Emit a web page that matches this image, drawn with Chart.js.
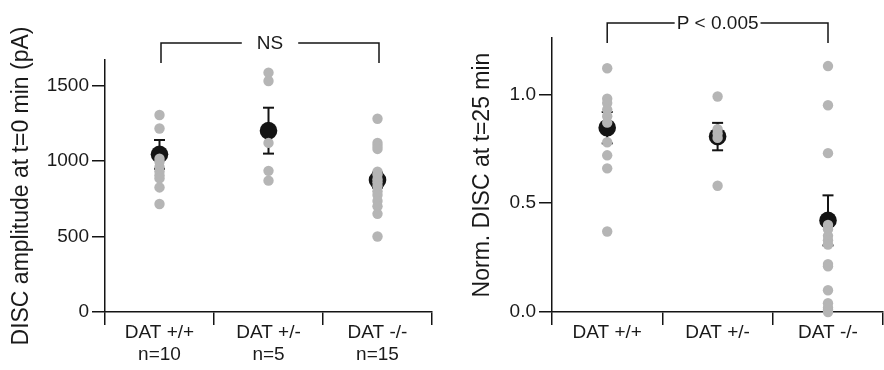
<!DOCTYPE html>
<html>
<head>
<meta charset="utf-8">
<script src="https://cdn.jsdelivr.net/npm/chart.js@4.4.1/dist/chart.umd.min.js"></script>
<style>
  html, body { margin: 0; padding: 0; background: #fff; overflow: hidden; }
  #wrap { position: relative; width: 884px; height: 370px; overflow: hidden; }
  #leftBox { position: absolute; left: 0; top: 0; }
  #rightBox { position: absolute; left: 442px; top: 0; }
</style>
</head>
<body>
<div id="wrap">
  <div id="leftBox"><canvas id="ampChart" width="442" height="370"></canvas></div>
  <div id="rightBox"><canvas id="normChart" width="450" height="370"></canvas></div>
</div>
<script>
const genotypes = ['DAT +/+', 'DAT +/-', 'DAT -/-'];
const groupSizes = ['n=10', 'n=5', 'n=15'];

// DISC amplitude at t=0 min (pA), one value per cell
const ampWT = [1305, 1215, 1015, 995, 960, 930, 905, 885, 825, 715];
const ampHet = [1585, 1530, 1120, 935, 870];
const ampKO = [1280, 1120, 1100, 1080, 930, 910, 880, 860, 835, 800, 775, 735, 700, 650, 500];
const ampMean = [1044, 1201, 874];
const ampSem = [95, 152, 50];
const ampTicks = [0, 500, 1000, 1500];

// normalized DISC at t=25 min
const normWT = [1.12, 0.98, 0.96, 0.93, 0.90, 0.87, 0.78, 0.72, 0.66, 0.37];
const normHet = [0.99, 0.84, 0.82, 0.80, 0.58];
const normKO = [1.13, 0.95, 0.73, 0.40, 0.38, 0.35, 0.33, 0.31, 0.22, 0.21, 0.10, 0.04, 0.02, 0.01, 0.0];
const normMean = [0.847, 0.806, 0.421];
const normSem = [0.072, 0.063, 0.115];
const normTicks = [0, 0.5, 1.0];

const GREY = '#b5b5b5';
const BLACK = '#141414';
const TEXT = '#1a1a1a';

Chart.defaults.font.family = '"Liberation Sans", Arial, sans-serif';
Chart.defaults.color = TEXT;

// bracket + label above the groups
const bracketPlugin = {
    id: 'bracket',
    afterDraw(chart, args, o) {
        const xs = chart.scales.x;
        const ctx = chart.ctx;
        const x1 = xs.getPixelForValue(o.from) + o.nudge;
        const x2 = xs.getPixelForValue(o.to) + o.nudge;
        const xm = xs.getPixelForValue(o.mid) + o.nudge;
        ctx.save();
        ctx.font = '19px "Liberation Sans", Arial, sans-serif';
        const half = ctx.measureText(o.text).width / 2 + o.gap;
        ctx.strokeStyle = BLACK;
        ctx.lineWidth = 1.5;
        ctx.beginPath();
        ctx.moveTo(x1, o.dropY);
        ctx.lineTo(x1, o.lineY);
        ctx.lineTo(xm - half, o.lineY);
        ctx.moveTo(xm + half, o.lineY);
        ctx.lineTo(x2, o.lineY);
        ctx.lineTo(x2, o.dropY);
        ctx.stroke();
        ctx.fillStyle = TEXT;
        ctx.textAlign = 'center';
        ctx.textBaseline = 'middle';
        ctx.fillText(o.text, xm, o.lineY + 1);
        ctx.restore();
    }
};

function makeChart(canvasId, groups, means, sems, cfg) {
    const labels = cfg.labels;
    const cells = [];
    groups.forEach(function(vals, i) {
        vals.forEach(function(v) { cells.push({x: labels[i], y: v}); });
    });

    const datasets = [{
        data: cells,
        showLine: false,
        pointRadius: 5.2,
        pointBackgroundColor: GREY,
        pointBorderWidth: 0,
        order: 1,
        clip: false
    }, {
        data: means.map(function(m, i) { return {x: labels[i], y: m}; }),
        showLine: false,
        pointRadius: 8.8,
        pointBackgroundColor: BLACK,
        pointBorderWidth: 0,
        order: 2,
        clip: false
    }];

    // error bars (mean +/- SEM) with caps
    means.forEach(function(m, i) {
        datasets.push({
            data: [{x: labels[i], y: m - sems[i]}, {x: labels[i], y: m + sems[i]}],
            showLine: true,
            borderColor: BLACK,
            borderWidth: 2,
            pointStyle: 'line',
            pointRadius: 5.5,
            pointBorderColor: BLACK,
            pointBorderWidth: 2,
            order: 3,
            clip: false
        });
    });

    return new Chart(document.getElementById(canvasId), {
        type: 'line',
        data: { labels: labels, datasets: datasets },
        plugins: [bracketPlugin],
        options: {
            responsive: false,
            animation: false,
            events: [],
            layout: { padding: cfg.padding },
            plugins: {
                legend: { display: false },
                tooltip: { enabled: false },
                bracket: cfg.bracket
            },
            scales: {
                x: {
                    type: 'category',
                    offset: true,
                    grid: { offset: true, drawOnChartArea: false, tickLength: 13, color: BLACK, lineWidth: 1.5 },
                    border: { color: BLACK, width: 1.5 },
                    ticks: { font: { size: 19 }, padding: -4, maxRotation: 0, autoSkip: false, color: TEXT },
                    afterFit: function(s) { s.height = cfg.xHeight; }
                },
                y: {
                    min: 0,
                    max: cfg.yMax,
                    ticks: { font: { size: 19 }, padding: 3, color: TEXT, callback: cfg.fmt },
                    afterBuildTicks: function(s) {
                        s.ticks = cfg.ticks.map(function(v) { return {value: v}; });
                    },
                    grid: { drawOnChartArea: false, tickLength: 13, color: BLACK, lineWidth: 1.5 },
                    border: { color: BLACK, width: 1.5 },
                    title: { display: true, text: cfg.title, font: { size: 23 }, color: TEXT, padding: { top: cfg.titlePad, bottom: 0 } },
                    afterFit: function(s) { s.width = cfg.yWidth; }
                }
            }
        }
    });
}

makeChart('ampChart', [ampWT, ampHet, ampKO], ampMean, ampSem, {
    labels: genotypes.map(function(g, i) { return [g, groupSizes[i]]; }),
    padding: { top: 60, right: 10, bottom: 0, left: 0 },
    xHeight: 58,
    yWidth: 105,
    yMax: 1669,
    ticks: ampTicks,
    fmt: function(v) { return String(v); },
    title: 'DISC amplitude at t=0 min (pA)',
    titlePad: 8,
    bracket: { from: 0, to: 2, mid: 1, nudge: 1.5, lineY: 43, dropY: 63, gap: 15, text: 'NS' }
});

makeChart('normChart', [normWT, normHet, normKO], normMean, normSem, {
    labels: genotypes.slice(),
    padding: { top: 38, right: 3, bottom: 0, left: 0 },
    xHeight: 58,
    yWidth: 110,
    yMax: 1.259,
    ticks: normTicks,
    fmt: function(v) { return v.toFixed(1); },
    title: 'Norm. DISC at t=25 min',
    titlePad: 27,
    bracket: { from: 0, to: 2, mid: 1, nudge: 0, lineY: 23, dropY: 43, gap: 2, text: 'P < 0.005' }
});
</script>
</body>
</html>
